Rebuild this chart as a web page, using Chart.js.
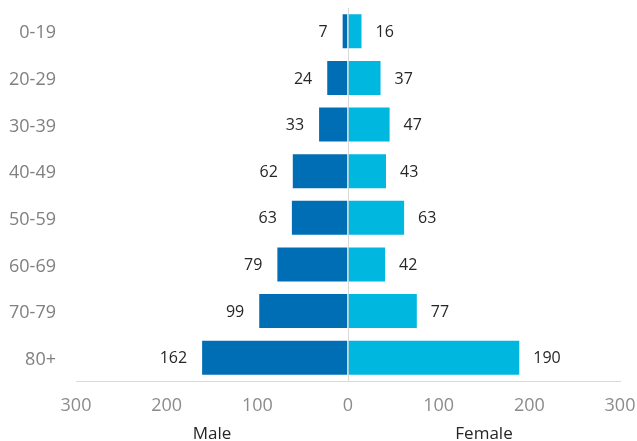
<!DOCTYPE html>
<html>
<head>
<meta charset="utf-8">
<script src="https://cdn.jsdelivr.net/npm/chart.js@4"></script>
<style>
  html, body { margin: 0; padding: 0; background: #ffffff; }
  #wrap { width: 637px; height: 441px; }
</style>
</head>
<body>
<div id="wrap"><canvas id="c" width="637" height="441"></canvas></div>
<script>
const ageGroups = ['0-19', '20-29', '30-39', '40-49', '50-59', '60-69', '70-79', '80+'];
const maleCounts = [7, 24, 33, 62, 63, 79, 99, 162];
const femaleCounts = [16, 37, 47, 43, 63, 42, 77, 190];
const sideLabels = ['Male', 'Female'];
const xTicks = { min: -300, max: 300, step: 100 };

const FONT = "'Open Sans', 'DejaVu Sans', sans-serif";

const valueLabels = {
  id: 'valueLabels',
  afterDatasetsDraw(chart) {
    const ctx = chart.ctx;
    ctx.save();
    ctx.font = '16px ' + FONT;
    ctx.fillStyle = '#262626';
    ctx.textBaseline = 'middle';
    chart.data.datasets.forEach((ds, i) => {
      const meta = chart.getDatasetMeta(i);
      meta.data.forEach((el, j) => {
        const v = ds.data[j];
        if (v < 0) {
          ctx.textAlign = 'right';
          ctx.fillText(String(Math.abs(v)), el.x - 14, el.y + 1);
        } else {
          ctx.textAlign = 'left';
          ctx.fillText(String(v), el.x + 13, el.y + 1);
        }
      });
    });
    ctx.restore();
  }
};

new Chart(document.getElementById('c'), {
  type: 'bar',
  data: {
    labels: ageGroups,
    datasets: [
      {
        label: 'Male',
        data: maleCounts.map(v => -v),
        backgroundColor: '#006eb4',
        borderColor: 'rgba(255,255,255,0.35)',
        borderWidth: 1,
        barPercentage: 0.77,
        categoryPercentage: 1.0
      },
      {
        label: 'Female',
        data: femaleCounts,
        backgroundColor: '#00b7e0',
        borderColor: 'rgba(255,255,255,0.35)',
        borderWidth: 1,
        barPercentage: 0.77,
        categoryPercentage: 1.0
      }
    ]
  },
  options: {
    indexAxis: 'y',
    responsive: false,
    animation: false,
    devicePixelRatio: 1,
    layout: { padding: { top: 8, right: 17, left: 0, bottom: 0 } },
    plugins: {
      legend: { display: false },
      tooltip: { enabled: false }
    },
    scales: {
      x: {
        stacked: true,
        min: xTicks.min,
        max: xTicks.max,
        position: 'bottom',
        afterFit(scale) {
          scale.height = 34;
          scale.paddingLeft = 0; scale.paddingRight = 0;
          scale.paddingTop = 0; scale.paddingBottom = 0;
        },
        ticks: {
          stepSize: xTicks.step,
          padding: 14,
          color: '#8c8c8c',
          font: { family: FONT, size: 18 },
          callback: v => String(Math.abs(v))
        },
        grid: {
          drawTicks: false,
          color: c => (c.tick && c.tick.value === 0) ? '#d9d9d9' : 'rgba(0,0,0,0)',
          lineWidth: 1
        },
        border: { display: true, color: '#d9d9d9', width: 1 }
      },
      x2: {
        type: 'category',
        labels: sideLabels,
        position: 'bottom',
        offset: true,
        afterFit(scale) {
          scale.height = 26;
          scale.paddingLeft = 0; scale.paddingRight = 0;
          scale.paddingTop = 0; scale.paddingBottom = 0;
        },
        grid: { display: false, drawTicks: false },
        border: { display: false },
        ticks: {
          padding: 9,
          color: '#262626',
          font: { family: FONT, size: 17 }
        }
      },
      y: {
        stacked: true,
        afterFit(scale) {
          scale.width = 76;
          scale.paddingTop = 0; scale.paddingBottom = 0;
          scale.paddingLeft = 0; scale.paddingRight = 0;
        },
        grid: { display: false, drawTicks: false },
        border: { display: false },
        ticks: {
          padding: 20,
          labelOffset: 2,
          color: '#808080',
          font: { family: FONT, size: 18 }
        }
      }
    }
  },
  plugins: [valueLabels]
});
</script>
</body>
</html>
